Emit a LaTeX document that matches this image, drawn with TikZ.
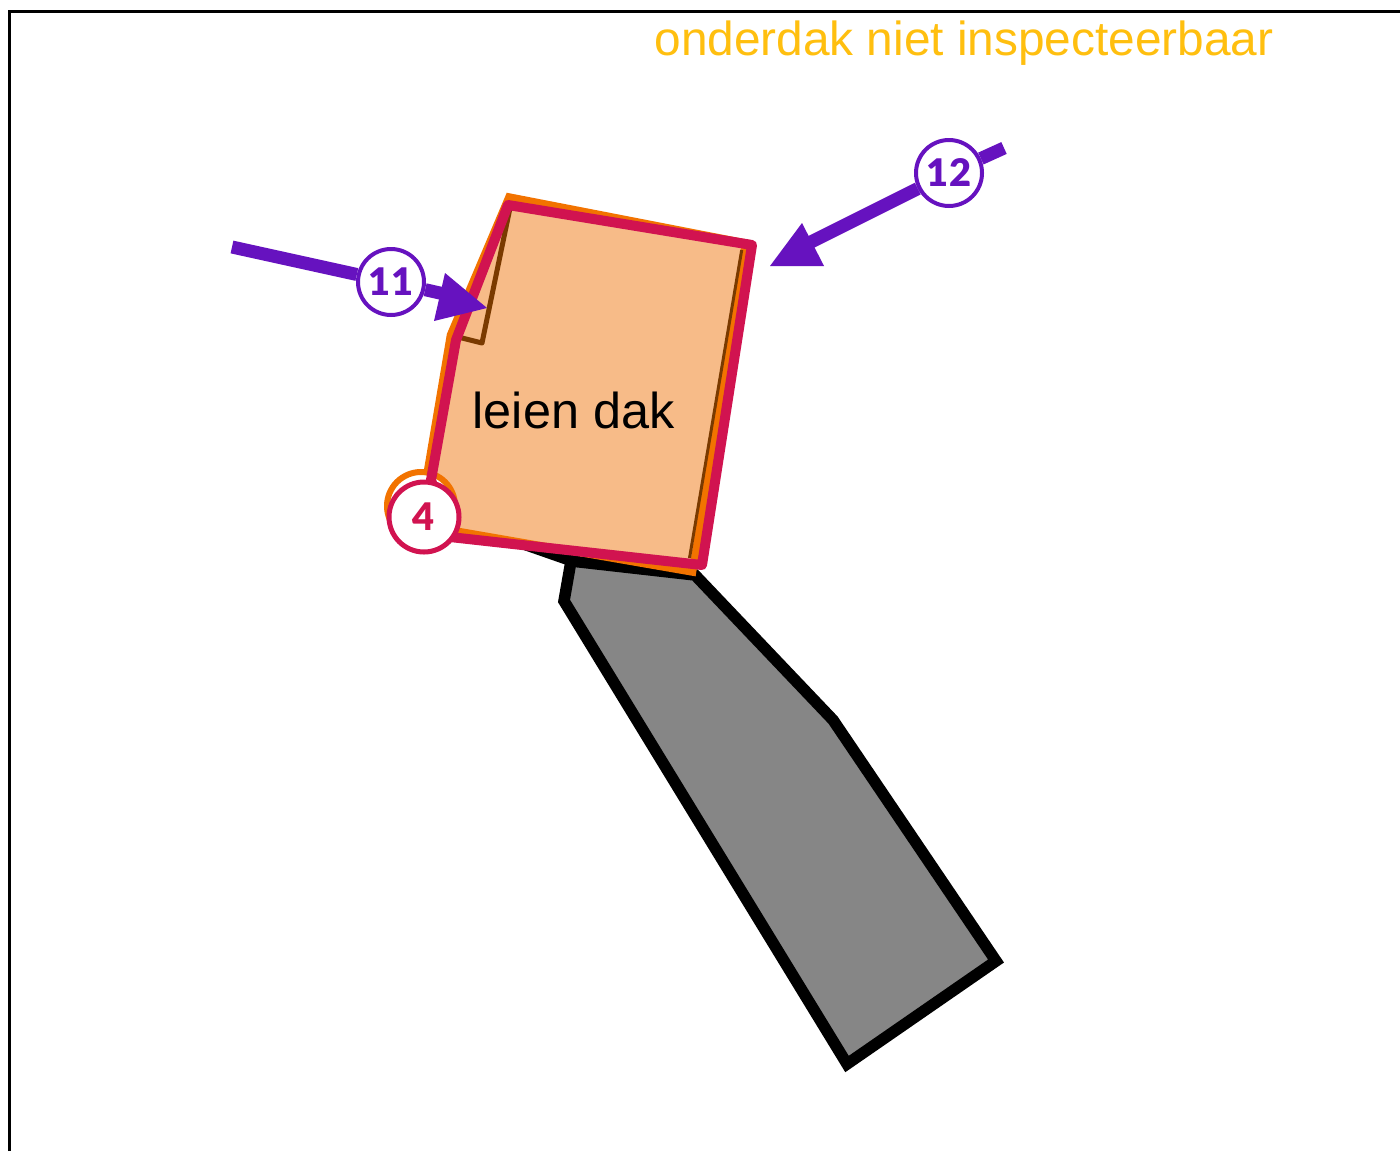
\documentclass[tikz,border=0pt]{standalone}
\usepackage{fontspec}
\setmainfont{Liberation Sans}
\newfontfamily\numfont{Lato Black}
\definecolor{purp}{HTML}{6612BF}
\definecolor{crim}{HTML}{D11350}
\definecolor{orng}{HTML}{F27300}
\definecolor{peach}{HTML}{F7BB88}
\definecolor{brwn}{HTML}{7A3A00}
\definecolor{gry}{HTML}{868686}
\definecolor{yel}{HTML}{FFBF0F}
\tikzset{
  numcircle/.style={circle,draw=#1,fill=white,line width=2pt,minimum size=33pt,inner sep=0pt,text=#1,font=\numfont\fontsize{19pt}{19pt}\selectfont},
  flow/.style={draw=purp,line width=6.5pt},
  headshape/.style={fill=purp,draw=none},
  label/.style={inner sep=0pt,anchor=base}
}
\begin{document}
\begin{tikzpicture}[x=0.5pt,y=-0.5pt,line join=miter]
\useasboundingbox (0,0) rectangle (1400,1151);
\fill[white] (0,0) rectangle (1400,1151);
% frame
\draw[line width=1.5pt] (9.5,1151) -- (9.5,11) -- (1400,11);
% sliver and gray block
\fill[black] (515,547) -- (575,555) -- (575,568) -- cycle;
\draw[black,fill=gry,line width=5.75pt,miter limit=10] (571,561) -- (695,575) -- (833,720) -- (996,961) -- (847,1064) -- (564,601) -- cycle;
% orange layer
\draw[orng,line width=3.75pt,fill=peach] (509,197) -- (745.5,243) -- (692.5,572) -- (450,530) -- (426,480) -- (450.5,335) -- cycle;
\node[circle,draw=orng,fill=white,line width=3pt,minimum size=34pt,inner sep=0pt] (o4) at (421,506) {};
% brown fold lines
\draw[brwn,line width=2.5pt,line join=round] (510,208) -- (482,343) -- (458,337);
\draw[brwn,line width=1.5pt] (741.7,250) -- (689.5,558);
% crimson outline
\draw[crim,line width=5pt,line join=round] (508,205) -- (752,245) -- (702,565) -- (450,537) -- (431,480) -- (456,340) -- cycle;
% text
\node[label,text=black,font=\fontsize{25.2pt}{25.2pt}\selectfont] (leien) at (573.5,428) {leien dak};
\node[label,text=yel,font=\fontsize{23.9pt}{23.9pt}\selectfont] (onder) at (964,55) {onderdak niet inspecteerbaar};
% numbered circles
\node[numcircle=crim,line width=2.5pt,minimum size=35pt] (n4) at (424,517) {4};
\node[numcircle=purp] (n11) at (391,282) {11};
\node[numcircle=purp] (n12) at (949,173) {12};
% connectors
\coordinate (s11) at (232,247);
\coordinate (h11) at (462,298);
\coordinate (s12) at (1004,148);
\coordinate (h12) at (805,245);
\draw[flow] (s11) -- (n11);
\draw[flow] (n11) -- (h11);
\draw[flow] (s12) -- (n12);
\draw[flow] (n12) -- (h12);
\fill[headshape] (445,273) -- (487,308) -- (434,321) -- cycle;
\fill[headshape] (770,266) -- (802,223) -- (824,266) -- cycle;
\end{tikzpicture}
\end{document}
